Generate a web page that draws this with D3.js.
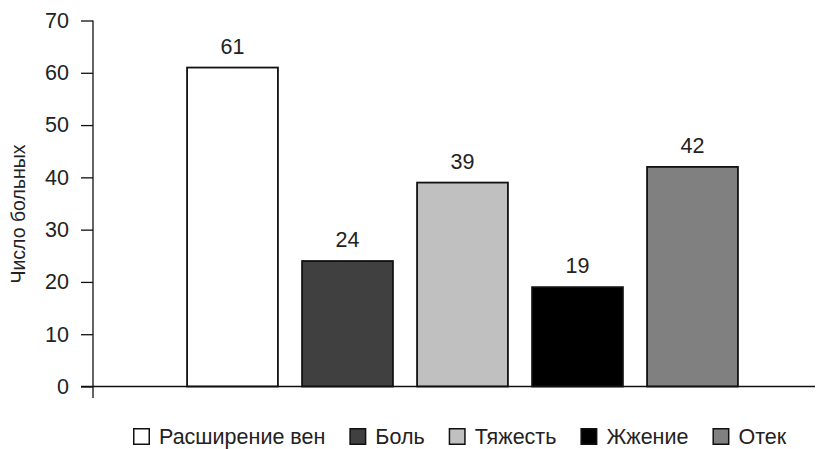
<!DOCTYPE html>
<html>
<head>
<meta charset="utf-8">
<script src="https://cdn.jsdelivr.net/npm/d3@7"></script>
<style>
  body { margin: 0; background: #fff; }
  svg { display: block; font-family: "Liberation Sans", Arial, sans-serif; }
</style>
</head>
<body>
<svg id="chart" width="832" height="449"></svg>
<script>
// data
const categories = ['Расширение вен', 'Боль', 'Тяжесть', 'Жжение', 'Отек'];
const values = [61, 24, 39, 19, 42];
const colors = ['#ffffff', '#404040', '#c0c0c0', '#000000', '#808080'];
const yTicks = [0, 10, 20, 30, 40, 50, 60, 70];
const yLabel = 'Число больных';

const svg = d3.select('#chart');

const axisX = 93;
const y = d3.scaleLinear().domain([0, 70]).range([386.5, 20.5]);
const x = d3.scaleBand().domain(categories).range([175, 750]).paddingInner(0.21).paddingOuter(0.105);

// bars
svg.append('g').selectAll('rect')
  .data(categories)
  .enter()
  .append('rect')
  .attr('x', d => x(d))
  .attr('y', (d, i) => y(values[i]))
  .attr('width', x.bandwidth())
  .attr('height', (d, i) => y(0) - y(values[i]))
  .attr('fill', (d, i) => colors[i])
  .attr('stroke', '#111')
  .attr('stroke-width', 1.8);

// value labels
svg.append('g').selectAll('text')
  .data(categories)
  .enter()
  .append('text')
  .attr('x', d => x(d) + x.bandwidth() / 2)
  .attr('y', (d, i) => y(values[i]) - 14)
  .attr('text-anchor', 'middle')
  .attr('font-size', 21.5)
  .attr('fill', '#222')
  .text((d, i) => values[i]);

// baseline
svg.append('line')
  .attr('x1', 81).attr('x2', 815)
  .attr('y1', y(0)).attr('y2', y(0))
  .attr('stroke', '#111').attr('stroke-width', 1.3);

// y axis
const yAxis = svg.append('g')
  .attr('transform', 'translate(' + axisX + ',0)')
  .call(d3.axisLeft(y).tickValues(yTicks).tickSize(12).tickPadding(12).tickSizeOuter(0));
yAxis.select('.domain').remove();
yAxis.selectAll('.tick line').attr('stroke', '#111').attr('stroke-width', 1.3);
yAxis.selectAll('.tick text').attr('font-size', 21.5).attr('fill', '#222').attr('font-family', '"Liberation Sans", Arial, sans-serif');
svg.append('line')
  .attr('x1', axisX).attr('x2', axisX)
  .attr('y1', y(70)).attr('y2', 398)
  .attr('stroke', '#111').attr('stroke-width', 1.3);

// y label
svg.append('text')
  .attr('transform', 'translate(25,214) rotate(-90)')
  .attr('text-anchor', 'middle')
  .attr('font-size', 19.5)
  .attr('fill', '#222')
  .text(yLabel);

// legend
const legend = svg.append('g').attr('transform', 'translate(133,428)');
let lx = 0;
categories.forEach((c, i) => {
  const item = legend.append('g').attr('transform', 'translate(' + lx + ',0)');
  item.append('rect')
    .attr('x', 0.75).attr('y', 0.75)
    .attr('width', 15.5).attr('height', 15.5)
    .attr('fill', colors[i])
    .attr('stroke', '#111').attr('stroke-width', 1.5);
  const t = item.append('text')
    .attr('x', 26).attr('y', 15.5)
    .attr('font-size', 21.5)
    .attr('fill', '#222')
    .text(c);
  lx += 26 + t.node().getComputedTextLength() + 24;
});
</script>
</body>
</html>
